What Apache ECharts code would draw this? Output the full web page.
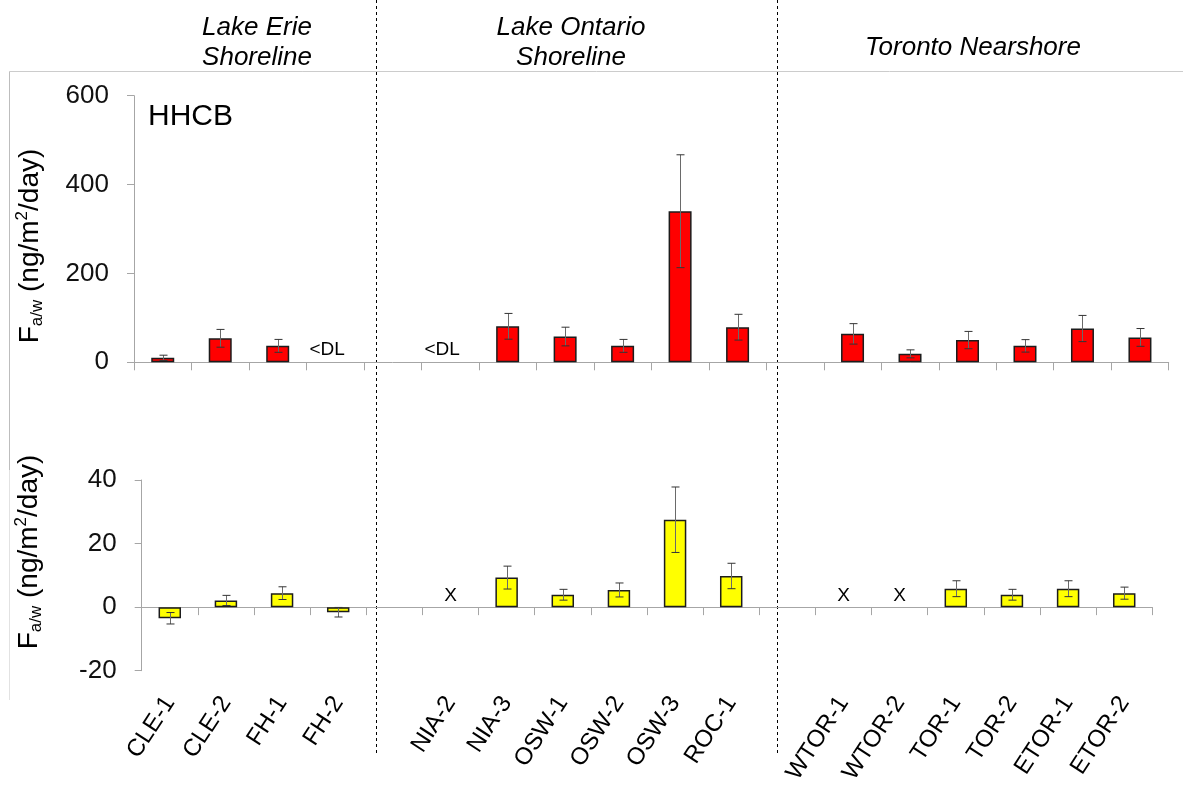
<!DOCTYPE html>
<html>
<head>
<meta charset="utf-8">
<title>HHCB air-water exchange flux</title>
<script src="https://cdn.jsdelivr.net/npm/echarts@6/dist/echarts.min.js"></script>
<style>
  html, body { margin: 0; padding: 0; background: #fff; }
  #chart { width: 1183px; height: 790px; }
</style>
</head>
<body>
<div id="chart"></div>
<script>
// Sampling sites; empty entries are spacer slots between the three regions
const sites = ['CLE-1', 'CLE-2', 'FH-1', 'FH-2', '',
  'NIA-2', 'NIA-3', 'OSW-1', 'OSW-2', 'OSW-3', 'ROC-1', '',
  'WTOR-1', 'WTOR-2', 'TOR-1', 'TOR-2', 'ETOR-1', 'ETOR-2'];

// Upper panel: flux (ng/m2/day) and its uncertainty
const fluxUpper = [10, 54, 37, null, null,
  null, 81, 58, 37, 340, 79, null,
  64, 19, 50, 37, 76, 56];
const errUpper = [6, 20, 14.5, null, null,
  null, 29, 21, 14.5, 127, 29, null,
  23, 9, 19.5, 14, 29.5, 20];
const noteUpper = ['', '', '', '<DL', '',
  '<DL', '', '', '', '', '', '',
  '', '', '', '', '', ''];

// Lower panel: flux (ng/m2/day) and its uncertainty
const fluxLower = [-3.5, 2.1, 4.4, -1.6, null,
  null, 9.3, 3.9, 5.4, 27.5, 9.8, null,
  null, null, 5.8, 3.9, 5.8, 4.4];
const errLower = [1.8, 1.6, 2.0, 1.5, null,
  null, 3.6, 1.7, 2.2, 10.3, 4.0, null,
  null, null, 2.5, 1.7, 2.5, 1.9];
const noteLower = ['', '', '', '', '',
  'X', '', '', '', '', '', '',
  'X', 'X', '', '', '', ''];

// Axis ticks
const upperTicks = { min: 0, max: 600, interval: 200 };
const lowerTicks = { min: -20, max: 40, interval: 20 };

// Region headings
const regions = [
  { name: 'Lake Erie\nShoreline', cx: 257, cy: 43 },
  { name: 'Lake Ontario\nShoreline', cx: 571, cy: 43 },
  { name: 'Toronto Nearshore', cx: 973, cy: 48 }
];

const FONT = '"Liberation Sans", Arial, Helvetica, sans-serif';
const AXIS_GREY = '#a6a6a6';

const chart = echarts.init(document.getElementById('chart'), null, { renderer: 'canvas' });

function errorItems(vals, errs) {
  const out = [];
  vals.forEach((v, i) => { if (v != null && errs[i] != null) out.push([i, v, errs[i]]); });
  return out;
}
function noteItems(notes) {
  const out = [];
  notes.forEach((n, i) => { if (n) out.push([i, 0, n]); });
  return out;
}

function renderError(params, api) {
  const x = api.value(0), v = api.value(1), e = api.value(2);
  const hi = api.coord([x, v + e]);
  const lo = api.coord([x, v - e]);
  const cx = Math.round(hi[0]) + 0.5;
  const w = 4;
  return {
    type: 'group',
    children: [
      { type: 'line', shape: { x1: cx, y1: hi[1], x2: cx, y2: lo[1] },
        style: { stroke: '#6a6a6a', lineWidth: 1 } },
      { type: 'line', shape: { x1: cx - w, y1: hi[1], x2: cx + w, y2: hi[1] },
        style: { stroke: '#333', lineWidth: 1 } },
      { type: 'line', shape: { x1: cx - w, y1: lo[1], x2: cx + w, y2: lo[1] },
        style: { stroke: '#333', lineWidth: 1 } }
    ]
  };
}

function makeNoteRenderer(notes, dx, dy, size, vAlign) {
  const items = noteItems(notes);
  return function (params, api) {
    const p = api.coord([api.value(0), 0]);
    return {
      type: 'text',
      x: p[0] + dx, y: p[1] + dy,
      style: { text: items[params.dataIndex][2], font: size + 'px ' + FONT, fill: '#000', align: 'center', verticalAlign: vAlign }
    };
  };
}

const yTitleRich = {
  a: { fontSize: 28, fontFamily: FONT, lineHeight: 32, verticalAlign: 'middle', fill: '#000' },
  s: { fontSize: 17, fontFamily: FONT, lineHeight: 14, verticalAlign: 'bottom', fill: '#000' },
  p: { fontSize: 17, fontFamily: FONT, lineHeight: 17, verticalAlign: 'top', fill: '#000' }
};
const yTitleText = '{a|F}{s|a/w}{a| (ng/m}{p|2}{a|/day)}';

function yAxisCommon(t) {
  return {
    type: 'value', min: t.min, max: t.max, interval: t.interval,
    axisLine: { show: true, lineStyle: { color: AXIS_GREY, width: 1 } },
    axisTick: { show: true, length: 7, lineStyle: { color: AXIS_GREY, width: 1 } },
    splitLine: { show: false },
    axisLabel: { fontSize: 26, margin: 25, color: '#111', fontFamily: FONT }
  };
}

const xTick = { show: true, interval: 0, length: 8, inside: false, lineStyle: { color: AXIS_GREY, width: 1 } };

const graphics = [
  // chart-area frame
  { type: 'line', shape: { x1: 9.5, y1: 71.5, x2: 1183, y2: 71.5 }, style: { stroke: '#cccccc', lineWidth: 1 } },
  { type: 'line', shape: { x1: 9.5, y1: 71.5, x2: 9.5, y2: 470 }, style: { stroke: '#bdbdbd', lineWidth: 1 } },
  { type: 'line', shape: { x1: 9.5, y1: 470, x2: 9.5, y2: 700 }, style: { stroke: '#e2e2e2', lineWidth: 1 } },
  // region separators
  { type: 'line', shape: { x1: 376.5, y1: 0, x2: 376.5, y2: 755 }, style: { stroke: '#000', lineWidth: 1, lineDash: [3, 3] } },
  { type: 'line', shape: { x1: 777.5, y1: 0, x2: 777.5, y2: 755 }, style: { stroke: '#000', lineWidth: 1, lineDash: [3, 3] } },
  // compound label
  { type: 'text', x: 148, y: 117, style: { text: 'HHCB', font: '30px ' + FONT, fill: '#000', align: 'left', verticalAlign: 'middle' } },
  // y-axis titles
  { type: 'text', x: 30, y: 246, rotation: Math.PI / 2,
    style: { text: yTitleText, rich: yTitleRich, align: 'center', verticalAlign: 'middle' } },
  { type: 'text', x: 29, y: 552, rotation: Math.PI / 2,
    style: { text: yTitleText, rich: yTitleRich, align: 'center', verticalAlign: 'middle' } }
];
regions.forEach(r => {
  graphics.push({
    type: 'text', x: r.cx, y: r.cy,
    style: { text: r.name, font: 'italic 26px ' + FONT, lineHeight: 30, fill: '#000', align: 'center', verticalAlign: 'middle' }
  });
});

const option = {
  animation: false,
  backgroundColor: '#fff',
  textStyle: { fontFamily: FONT },
  grid: [
    { left: 134, top: 95.7, width: 1034.7, height: 266.6 },
    { left: 141.7, top: 480, width: 1010.6, height: 190.7 }
  ],
  xAxis: [
    { gridIndex: 0, type: 'category', data: sites, boundaryGap: true,
      axisLine: { show: true, lineStyle: { color: AXIS_GREY, width: 1 } },
      axisTick: xTick,
      axisLabel: { show: false } },
    { gridIndex: 1, type: 'category', data: sites, boundaryGap: true,
      axisLine: { show: true, onZero: true, lineStyle: { color: AXIS_GREY, width: 1 } },
      axisTick: xTick,
      axisLabel: { show: false } },
    { gridIndex: 1, type: 'category', data: sites, position: 'bottom',
      axisLine: { show: false, onZero: false },
      axisTick: { show: false },
      axisLabel: { interval: 0, rotate: 57, margin: 28, fontSize: 24, color: '#000', fontFamily: FONT } }
  ],
  yAxis: [
    Object.assign({ gridIndex: 0 }, yAxisCommon(upperTicks)),
    Object.assign({ gridIndex: 1 }, yAxisCommon(lowerTicks))
  ],
  series: [
    { type: 'bar', xAxisIndex: 0, yAxisIndex: 0, data: fluxUpper, barWidth: '40%',
      itemStyle: { color: '#ff0000', borderColor: '#1c1c1c', borderWidth: 1.5 } },
    { type: 'custom', xAxisIndex: 0, yAxisIndex: 0, data: errorItems(fluxUpper, errUpper),
      encode: { x: 0, y: 1 }, renderItem: renderError, z: 5 },
    { type: 'custom', xAxisIndex: 0, yAxisIndex: 0, data: noteItems(noteUpper).map(d => [d[0], d[1]]),
      encode: { x: 0, y: 1 }, renderItem: makeNoteRenderer(noteUpper, -8, -3, 19, 'bottom'), z: 5 },
    { type: 'bar', xAxisIndex: 1, yAxisIndex: 1, data: fluxLower, barWidth: '40%',
      itemStyle: { color: '#ffff00', borderColor: '#1c1c1c', borderWidth: 1.5 } },
    { type: 'custom', xAxisIndex: 1, yAxisIndex: 1, data: errorItems(fluxLower, errLower),
      encode: { x: 0, y: 1 }, renderItem: renderError, z: 5 },
    { type: 'custom', xAxisIndex: 1, yAxisIndex: 1, data: noteItems(noteLower).map(d => [d[0], d[1]]),
      encode: { x: 0, y: 1 }, renderItem: makeNoteRenderer(noteLower, 0, -11, 19, 'middle'), z: 5 }
  ],
  graphic: graphics
};

chart.setOption(option);
</script>
</body>
</html>
